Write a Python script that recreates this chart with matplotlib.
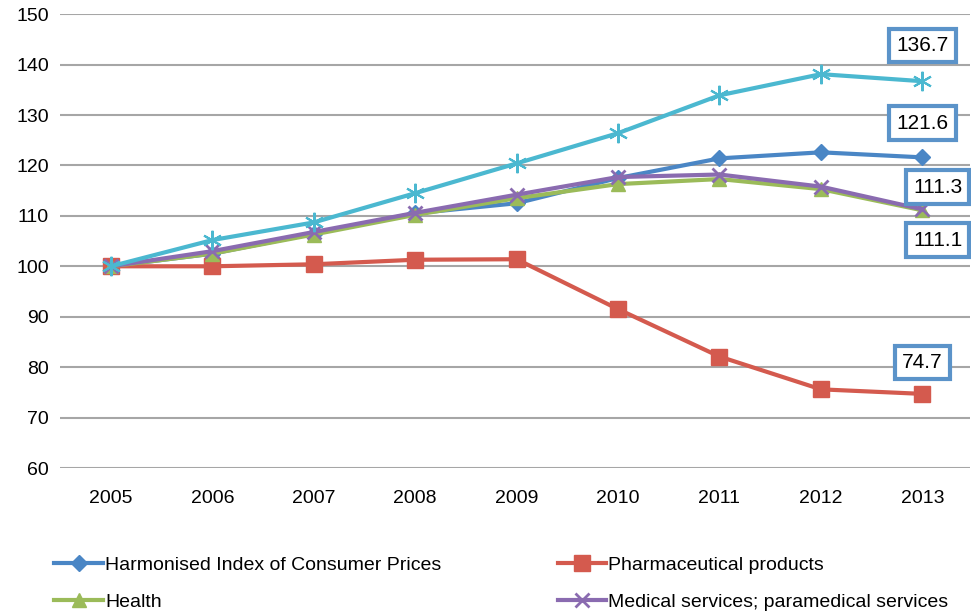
import matplotlib.pyplot as plt
import numpy as np

plt.rcParams['font.family'] = ['Liberation Sans', 'DejaVu Sans']
fs = 14

years = ['2005', '2006', '2007', '2008', '2009', '2010', '2011', '2012', '2013']
hicp = [100, 102.5, 106.5, 110.5, 112.5, 117.5, 121.4, 122.6, 121.6]
pharma = [100, 100, 100.4, 101.3, 101.4, 91.5, 82.1, 75.6, 74.7]
health = [100, 102.5, 106.3, 110.2, 113.5, 116.3, 117.3, 115.3, 111.1]
medical = [100, 103, 106.8, 110.6, 114.2, 117.7, 118.2, 115.8, 111.3]
other = [100, 105.2, 108.7, 114.5, 120.4, 126.4, 133.9, 138.1, 136.7]

# end labels: text, x position (categories), y position
end_labels = [('136.7', 8.0, 143.8), ('121.6', 8.0, 128.4), ('111.3', 8.15, 115.7),
              ('111.1', 8.15, 105.2), ('74.7', 8.0, 80.9)]

fig = plt.figure(figsize=(9.71, 6.15), dpi=100)
ax = fig.add_axes([0.062, 0.239, 0.937, 0.738])

x = np.arange(len(years))
lw = 3
h1, = ax.plot(x, hicp, color='#4A86C5', lw=lw, marker='D', ms=8, zorder=3,
              label='Harmonised Index of Consumer Prices')
h2, = ax.plot(x, pharma, color='#D45A4E', lw=lw, marker='s', ms=12, zorder=3,
              label='Pharmaceutical products')
h3, = ax.plot(x, health, color='#9BBB59', lw=lw, marker='^', ms=10, zorder=3,
              label='Health')
h4, = ax.plot(x, medical, color='#8A6BB0', lw=lw, marker='x', ms=10, mew=2, zorder=4,
              label='Medical services; paramedical services')
ax.plot(x, other, color='#4BB8D0', lw=lw, marker=(6, 2, 0), ms=14, mew=1.5, zorder=5)

for txt, xp, yp in end_labels:
    ax.text(xp, yp, txt, fontsize=fs + 1, ha='center', va='center', zorder=6,
            bbox=dict(boxstyle='square,pad=0.35', fc='white', ec='#5B93C9', lw=3))

ax.set_xlim(-0.5, 8.47)
ax.set_ylim(60, 150)
ax.set_yticks(range(60, 151, 10))
ax.set_xticks(x)
ax.set_xticklabels(years)
ax.tick_params(length=0, labelsize=fs, pad=16)
ax.tick_params(axis='y', pad=8)
ax.grid(axis='y', color='#A6A6A6', lw=1.5)
ax.set_axisbelow(True)
for s in ax.spines.values():
    s.set_visible(False)

fig.legend(handles=[h1, h3, h2, h4], ncol=2, loc='lower left',
           bbox_to_anchor=(0.038, -0.022), frameon=False, fontsize=fs,
           handlelength=2.5, handletextpad=0.1, columnspacing=6.0,
           labelspacing=1.0)

fig.savefig('out.png', dpi=100)
